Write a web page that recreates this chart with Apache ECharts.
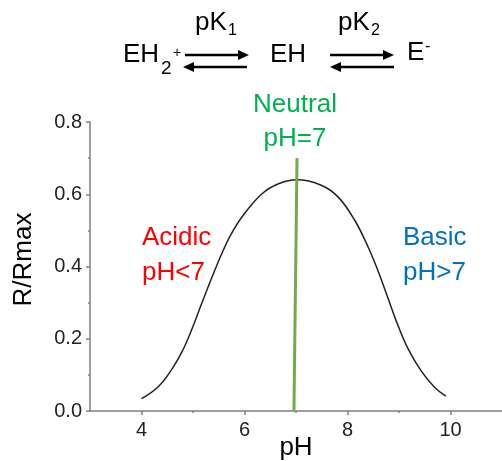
<!DOCTYPE html>
<html>
<head>
<meta charset="utf-8">
<script src="https://cdn.jsdelivr.net/npm/echarts@6/dist/echarts.min.js"></script>
<style>
  html, body { margin: 0; padding: 0; background: #fff; }
  #chart { width: 502px; height: 461px; }
</style>
</head>
<body>
<div id="chart"></div>
<script>
// pH values and R/Rmax
var phValues = [4.0, 4.33, 4.59, 4.79, 4.98, 5.17, 5.37, 5.56, 5.72, 5.95, 6.33, 6.66, 7.02, 7.49, 7.82, 8.14, 8.4, 8.59, 8.78, 8.98, 9.17, 9.43, 9.69, 9.91];
var ratioValues = [0.034, 0.068, 0.116, 0.165, 0.227, 0.298, 0.371, 0.436, 0.484, 0.537, 0.600, 0.629, 0.640, 0.625, 0.592, 0.528, 0.454, 0.389, 0.315, 0.237, 0.174, 0.111, 0.066, 0.041];
// the green "neutral" line at pH 7
var neutralLine = [[6.96, 0], [7.02, 0.70]];
var xMajorTicks = [4, 6, 8, 10];
var xMinorTicks = [5, 7, 9];

var FONT = 'Liberation Sans, Arial, sans-serif';
var AXIS_COLOR = '#7f7f7f';

var chart = echarts.init(document.getElementById('chart'));

var curveData = phValues.map(function (x, i) { return [x, ratioValues[i]]; });

function txt(x, y, text, size, color, align) {
    return {
        type: 'text',
        x: x,
        y: y,
        style: {
            text: text,
            fontSize: size,
            fontFamily: FONT,
            fill: color || '#000',
            align: align || 'left',
            verticalAlign: 'middle'
        }
    };
}

function arrow(x1, x2, y, right) {
    var tipX = right ? x2 : x1;
    var baseX = right ? x2 - 11 : x1 + 11;
    return [
        { type: 'line', shape: { x1: right ? x1 : x1 + 8, y1: y, x2: right ? x2 - 8 : x2, y2: y }, style: { stroke: '#000', lineWidth: 2.5 } },
        { type: 'polygon', shape: { points: [[tipX, y], [baseX, y - 5], [baseX, y + 5]] }, style: { fill: '#000' } }
    ];
}

var graphics = [
    // reaction scheme
    txt(195, 23, 'pK', 26),
    txt(228, 31, '1', 16),
    txt(338, 23, 'pK', 26),
    txt(371, 31, '2', 16),
    txt(123, 55, 'EH', 26),
    txt(161, 69, '2', 19),
    txt(173, 53, '+', 14),
    txt(270, 55, 'EH', 26),
    txt(407, 53, 'E', 26),
    txt(425, 47, '-', 16),
    // annotations
    txt(295, 105, 'Neutral', 26, '#00b050', 'center'),
    txt(295, 139, 'pH=7', 26, '#00b050', 'center'),
    txt(142, 238, 'Acidic', 26, '#ff0000'),
    txt(142, 273, 'pH<7', 26, '#ff0000'),
    txt(403, 238, 'Basic', 26, '#0070c0'),
    txt(403, 273, 'pH>7', 26, '#0070c0')
]
.concat(arrow(185, 249, 55, true))
.concat(arrow(183, 247, 67, false))
.concat(arrow(330, 394, 55, true))
.concat(arrow(330, 394, 67, false));

var option = {
    backgroundColor: '#fff',
    animation: false,
    grid: {
        left: 90,
        right: 0,
        top: 122,
        bottom: 50,
        outerBoundsMode: 'none'
    },
    xAxis: [
        {
            type: 'value',
            min: 3,
            max: 11,
            name: 'pH',
            nameLocation: 'middle',
            nameGap: 24,
            nameMoveOverlap: false,
            nameTextStyle: { fontSize: 26, fontFamily: FONT, color: '#000' },
            axisLine: { lineStyle: { color: AXIS_COLOR, width: 1.5 } },
            axisTick: { customValues: xMajorTicks, length: 4, lineStyle: { color: AXIS_COLOR, width: 1.5 } },
            axisLabel: { customValues: xMajorTicks, fontSize: 20, fontFamily: FONT, color: '#222', margin: 9 },
            splitLine: { show: false }
        },
        {
            type: 'value',
            min: 3,
            max: 11,
            position: 'bottom',
            axisLine: { show: false },
            axisTick: { customValues: xMinorTicks, length: 2, lineStyle: { color: AXIS_COLOR, width: 1.5 } },
            axisLabel: { show: false },
            splitLine: { show: false }
        }
    ],
    yAxis: {
        type: 'value',
        min: 0,
        max: 0.8,
        interval: 0.2,
        name: 'R/Rmax',
        nameLocation: 'middle',
        nameGap: 53,
        nameTextStyle: { fontSize: 26, fontFamily: FONT, color: '#000', padding: [0, 0, 0, 14] },
        axisLine: { show: true, lineStyle: { color: AXIS_COLOR, width: 1.5 } },
        axisTick: { show: true, length: 4, lineStyle: { color: AXIS_COLOR, width: 1.5 } },
        minorTick: { show: true, splitNumber: 2, length: 2, lineStyle: { color: AXIS_COLOR, width: 1.5 } },
        axisLabel: {
            fontSize: 20,
            fontFamily: FONT,
            color: '#222',
            margin: 8,
            formatter: function (v) { return v.toFixed(1); }
        },
        splitLine: { show: false }
    },
    series: [
        {
            type: 'line',
            data: curveData,
            smooth: 0.4,
            symbol: 'none',
            lineStyle: { color: '#222', width: 1.5 }
        },
        {
            type: 'line',
            data: neutralLine,
            symbol: 'none',
            lineStyle: { color: '#70ad47', width: 3 }
        }
    ],
    graphic: graphics
};

chart.setOption(option);
</script>
</body>
</html>
